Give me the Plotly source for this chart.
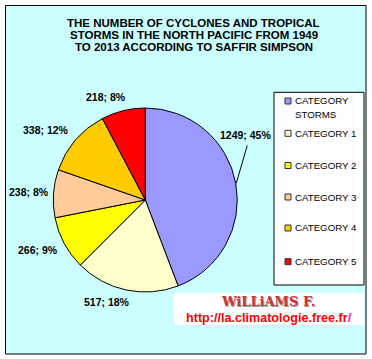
import math
import plotly.graph_objects as go

# ---- data ----
categories = ["CATEGORY<br>STORMS", "CATEGORY 1", "CATEGORY 2", "CATEGORY 3", "CATEGORY 4", "CATEGORY 5"]
counts = [1249, 517, 266, 238, 338, 218]
percent_labels = [45, 18, 9, 8, 12, 8]
colors = ["#9999FF", "#FFFFCC", "#FFFF00", "#FFCC99", "#FFCC00", "#FF0000"]
title_lines = ["THE NUMBER OF CYCLONES AND TROPICAL",
               "STORMS IN THE NORTH PACIFIC FROM 1949",
               "TO 2013 ACCORDING TO SAFFIR SIMPSON"]

W, H = 372, 359
def px(x):
    return x / W
def py(y):
    return 1 - y / H

# pie geometry (pixels)
CX, CY, R = 145.3, 200, 92

fig = go.Figure()
fig.add_trace(go.Pie(
    values=counts, labels=categories, sort=False, direction="clockwise", rotation=0,
    marker=dict(colors=colors, line=dict(color="black", width=1)),
    textinfo="none", hoverinfo="label+value+percent", showlegend=False,
    domain=dict(x=[px(CX - R), px(CX + R)], y=[py(CY + R), py(CY - R)]),
))

shapes = []
annotations = []

# outer frame
shapes.append(dict(type="rect", xref="paper", yref="paper", layer="below",
                   x0=px(5.5), x1=px(366), y0=py(354), y1=py(5.5),
                   fillcolor="#CCFFFF", line=dict(color="black", width=1)))

# title
for i, line in enumerate(title_lines):
    annotations.append(dict(xref="paper", yref="paper", x=px(193.5), y=py(22.8 + i * 11.9),
                            text="<b>%s</b>" % line, showarrow=False,
                            xanchor="center", yanchor="middle",
                            font=dict(family="Liberation Sans, Arial", size=11.5, color="black")))

# data labels (computed from slice mid-angles; angular tweak/distance = label placement)
label_tweak = [-22.4, 8.3, 3.2, -0.3, -5.6, -7.3]
label_dist = [119, 109, 118, 117, 121, 110]
total = sum(counts)
cum = 0
for i, v in enumerate(counts):
    mid = (cum + v / 2) / total * 360
    cum += v
    a = math.radians(mid + label_tweak[i])
    lx = CX + label_dist[i] * math.sin(a)
    ly = CY - label_dist[i] * math.cos(a)
    annotations.append(dict(xref="paper", yref="paper", x=px(lx), y=py(ly),
                            text="<b>%d; %d%%</b>" % (v, percent_labels[i]), showarrow=False,
                            xanchor="center", yanchor="middle",
                            font=dict(family="Liberation Sans, Arial", size=10.5, color="black")))
    if abs(label_tweak[i]) > 15:
        am = math.radians(mid)
        sx = CX + (R + 0.5) * math.sin(am)
        sy = CY - (R + 0.5) * math.cos(am)
        shapes.append(dict(type="line", xref="paper", yref="paper",
                           x0=px(sx), y0=py(sy), x1=px(lx + 2), y1=py(ly + 10),
                           line=dict(color="black", width=1)))

# legend box
shapes.append(dict(type="rect", xref="paper", yref="paper",
                   x0=px(274), x1=px(364), y0=py(285), y1=py(92.3),
                   fillcolor="white", line=dict(color="black", width=1)))
legend_y = [101, 133.3, 165.5, 197, 228, 261.7]
for i, cat in enumerate(categories):
    yy = legend_y[i]
    shapes.append(dict(type="rect", xref="paper", yref="paper",
                       x0=px(285), x1=px(291), y0=py(yy + 3), y1=py(yy - 3),
                       fillcolor=colors[i], line=dict(color="#333333", width=1)))
    for j, part in enumerate(cat.split("<br>")):
        annotations.append(dict(xref="paper", yref="paper", x=px(293), y=py(yy + j * 13.8),
                                text=part, showarrow=False, xanchor="left", yanchor="middle",
                                font=dict(family="Liberation Sans, Arial", size=9.7, color="black")))

# watermark
shapes.append(dict(type="rect", xref="paper", yref="paper",
                   x0=px(174), x1=px(364), y0=py(325), y1=py(293),
                   fillcolor="white", line=dict(width=0)))
annotations.append(dict(xref="paper", yref="paper", x=px(268.5), y=py(302.5),
                        text="<b>WiLLiAMS F.</b>", showarrow=False, xanchor="center", yanchor="middle",
                        font=dict(family="DejaVu Serif", size=13, color="#999999")))
annotations.append(dict(xref="paper", yref="paper", x=px(267.5), y=py(301.5),
                        text="<b>WiLLiAMS F.</b>", showarrow=False, xanchor="center", yanchor="middle",
                        font=dict(family="DejaVu Serif", size=13, color="#CC3333")))
annotations.append(dict(xref="paper", yref="paper", x=px(268.5), y=py(317.5),
                        text="<b>http://la.climatologie.free.fr<span style='color:#FF00FF'>/</span></b>",
                        showarrow=False, xanchor="center", yanchor="middle",
                        font=dict(family="Liberation Sans, Arial", size=12.6, color="#FF0000")))

fig.update_layout(width=W, height=H, margin=dict(l=0, r=0, t=0, b=0),
                  paper_bgcolor="white", plot_bgcolor="white",
                  shapes=shapes, annotations=annotations, showlegend=False)
fig.write_html("out.html", config={"displayModeBar": False},
               post_script="document.body.style.margin='0';")
